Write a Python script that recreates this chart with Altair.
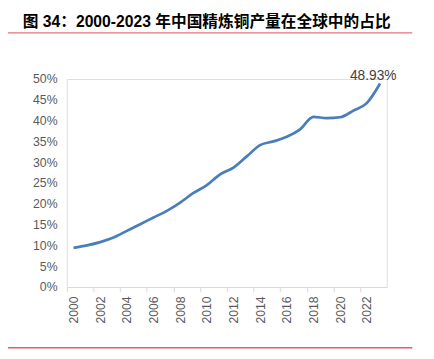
import altair as alt
import pandas as pd

years = list(range(2000, 2024))
share = [0.094, 0.100, 0.108, 0.119, 0.135, 0.151, 0.167, 0.183, 0.203, 0.226,
         0.245, 0.271, 0.287, 0.314, 0.341, 0.350, 0.361, 0.379, 0.409, 0.406,
         0.408, 0.424, 0.442, 0.4893]
tick_years = list(range(2000, 2025, 2))
y_ticks = [0, 0.05, 0.10, 0.15, 0.20, 0.25, 0.30, 0.35, 0.40, 0.45, 0.50]
title_text = "图 34：2000-2023 年中国精炼铜产量在全球中的占比"
end_label = "48.93%"

W, H = 326, 212
half_band = W / 24 / 2

df = pd.DataFrame({"year": years, "share": share})
last = pd.DataFrame({"year": [years[-1]], "share": [share[-1]], "label": [end_label]})
one = pd.DataFrame({"t": [title_text]})

x_enc = alt.X("year:Q",
              scale=alt.Scale(domain=[1999.5, 2023.5], nice=False, zero=False),
              axis=alt.Axis(values=tick_years, title=None, grid=False,
                            labelExpr="datum.value > 2023 ? '' : datum.value",
                            tickOffset=-half_band, labelOffset=half_band,
                            labelAngle=270, labelPadding=4, tickSize=5,
                            tickColor="#d9d9d9", domainColor="#d9d9d9",
                            labelColor="#595959", labelFontSize=12.5,
                            labelFont="Liberation Sans", labelFlush=False,
                            labelOverlap=False, labelBound=False))
y_enc = alt.Y("share:Q",
              scale=alt.Scale(domain=[0, 0.5], nice=False),
              axis=alt.Axis(values=y_ticks, format=".0%", title=None, grid=False,
                            ticks=False, domain=False, labelPadding=10,
                            labelColor="#595959", labelFontSize=12.5,
                            labelFont="Liberation Sans", labelOverlap=False,
                            labelFlush=False, labelBound=False))

line = alt.Chart(df).mark_line(color="#4a7ebb", strokeWidth=2.75,
                               interpolate="monotone").encode(x=x_enc, y=y_enc)

ann = alt.Chart(last).mark_text(fontSize=14, color="#404040", font="Liberation Sans",
                                baseline="middle", align="center",
                                dx=-7, dy=-8).encode(x=x_enc, y=y_enc, text="label:N")

title = alt.Chart(one).mark_text(fontSize=16, fontWeight="bold", color="#000000",
                                 font="Liberation Sans, Noto Sans CJK SC",
                                 align="left", baseline="middle").encode(
    x=alt.value(-45), y=alt.value(-58), text="t:N")

rule_top = alt.Chart(one).mark_rule(color="#e5737a", strokeWidth=1.5).encode(
    x=alt.value(-60), x2=alt.value(352), y=alt.value(-47))
rule_bot = alt.Chart(one).mark_rule(color="#e35f66", strokeWidth=1.5).encode(
    x=alt.value(-60), x2=alt.value(352), y=alt.value(274))

chart = alt.layer(line, ann, title, rule_top, rule_bot).properties(
    width=W, height=H,
    autosize=alt.AutoSizeParams(type="none"),
    padding={"left": 60, "top": 69, "right": 40, "bottom": 70},
).configure_view(stroke=None).configure(background="white").configure_axis(
    labelOverlap=False)

chart.save("out.html", embed_options={"renderer": "svg", "actions": False})
